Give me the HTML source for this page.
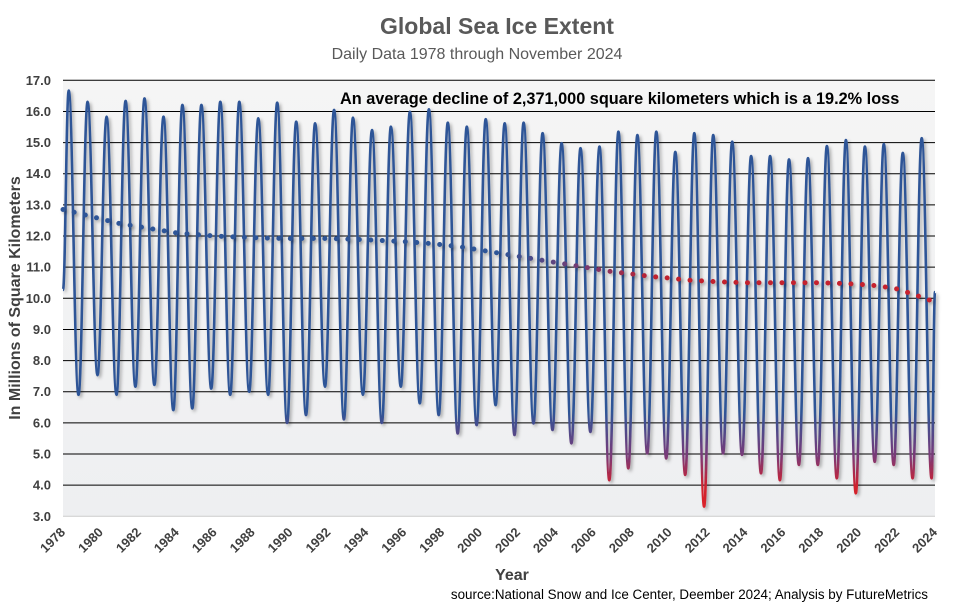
<!DOCTYPE html>
<html><head><meta charset="utf-8"><style>
html,body{margin:0;padding:0;background:#fff;}
svg{display:block;font-family:"Liberation Sans",Arial,sans-serif;}
</style></head><body>
<svg id="chart" width="955" height="610" viewBox="0 0 955 610">
<defs>
<linearGradient id="bg" x1="0" y1="0" x2="0" y2="1"><stop offset="0" stop-color="#f5f5f5"/><stop offset="1" stop-color="#eeeff1"/></linearGradient>
<linearGradient id="lineGrad" gradientUnits="userSpaceOnUse" x1="0" y1="80" x2="0" y2="517">
<stop offset="0" stop-color="#2f5597"/><stop offset="0.76" stop-color="#2f5597"/><stop offset="0.86" stop-color="#7a3a78"/><stop offset="0.93" stop-color="#d0202d"/><stop offset="1" stop-color="#e0202a"/>
</linearGradient>
<linearGradient id="trendGrad" gradientUnits="userSpaceOnUse" x1="63" y1="0" x2="935" y2="0">
<stop offset="0" stop-color="#2f5597"/><stop offset="0.5" stop-color="#2f5597"/><stop offset="0.6" stop-color="#7a3a70"/><stop offset="0.68" stop-color="#c0202d"/><stop offset="1" stop-color="#c8202d"/>
</linearGradient>
<filter id="sh" x="-5%" y="-5%" width="110%" height="110%"><feDropShadow dx="2" dy="2" stdDeviation="1.5" flood-color="#000" flood-opacity="0.3"/></filter>
</defs>
<text x="497" y="34" text-anchor="middle" font-size="23" font-weight="bold" fill="#595959">Global Sea Ice Extent</text>
<text x="477" y="59" text-anchor="middle" font-size="16" fill="#595959">Daily Data 1978 through November 2024</text>
<rect x="63" y="80" width="872" height="437" fill="url(#bg)"/>
<g id="grid"></g>
<g id="yticks"></g>
<g id="xticks"></g>
<g id="series"></g>
<text x="340" y="104" font-size="16.3" font-weight="bold" fill="#000">An average decline of 2,371,000 square kilometers which is a 19.2% loss</text>
<text x="512" y="580" text-anchor="middle" font-size="16" font-weight="bold" fill="#404040">Year</text>
<text transform="translate(20,298) rotate(-90)" text-anchor="middle" font-size="16" font-weight="bold" fill="#404040">In Millions of Square Kilometers</text>
<text x="928" y="599" text-anchor="end" font-size="13.4" fill="#000">source:National Snow and Ice Center, Deember 2024; Analysis by FutureMetrics</text>
</svg>
<script>
const yTicks=[3,4,5,6,7,8,9,10,11,12,13,14,15,16,17];
const xTickYears=[1978,1980,1982,1984,1986,1988,1990,1992,1994,1996,1998,2000,2002,2004,2006,2008,2010,2012,2014,2016,2018,2020,2022,2024];
const peakValues=[16.67,16.31,15.83,16.34,16.42,15.83,16.21,16.21,16.31,16.31,15.78,16.28,15.67,15.62,16.05,15.8,15.4,15.51,15.99,16.07,15.64,15.51,15.75,
15.62,15.64,15.3,14.98,14.82,14.87,15.35,15.24,15.35,14.7,15.3,15.24,15.03,14.57,14.57,14.46,14.5,14.89,15.08,14.87,14.95,14.67,15.14];
const troughValues=[6.9,7.53,6.9,7.16,7.22,6.41,6.46,7.1,6.9,7.0,6.9,6.0,6.25,7.16,6.11,6.9,6.0,7.16,6.63,6.25,5.66,5.93,6.57,
5.61,5.98,5.77,5.34,5.71,4.16,4.54,5.02,4.86,4.33,3.31,5.02,4.97,4.38,4.16,4.65,4.65,4.22,3.74,4.75,4.65,4.22,4.22];
const startValue=10.27, endValue=10.2;
const trendValues=[12.85,12.7,12.55,12.4,12.3,12.2,12.1,12.05,12.0,11.97,11.95,11.93,11.92,11.92,11.92,11.9,11.88,11.85,11.82,11.78,11.72,11.65,11.55,11.45,11.35,11.25,11.15,11.05,10.95,10.85,10.78,10.7,10.65,10.58,10.55,10.52,10.5,10.5,10.5,10.5,10.5,10.48,10.45,10.4,10.3,10.1,9.88];

const NS='http://www.w3.org/2000/svg';
const X0=63,X1=935,Y0=80.3,Y1=516.3;
function xs(t){return X0+(t-1978)/46*(X1-X0);}
function ys(v){return Y0+(17-v)/14*(Y1-Y0);}
function mk(tag,attrs,parent){const e=document.createElementNS(NS,tag);for(const k in attrs)e.setAttribute(k,attrs[k]);parent.appendChild(e);return e;}
const grid=document.getElementById('grid'),yt=document.getElementById('yticks'),xt=document.getElementById('xticks'),ser=document.getElementById('series');
yTicks.forEach(v=>{
  const l=mk('line',{x1:X0,x2:X1,y1:ys(v),y2:ys(v),stroke:v===3?'#d0d0d0':'#000','stroke-width':1},grid);
  
  
  const t=mk('text',{x:51,y:ys(v)+4.5,'text-anchor':'end','font-size':13,'font-weight':'bold',fill:'#404040'},yt);
  t.textContent=v.toFixed(1);
  
  
});
xTickYears.forEach(y=>{
  const x=xs(y)+3,yy=533;
  const t=mk('text',{x:x,y:yy,'text-anchor':'end','font-size':13,'font-weight':'bold',fill:'#404040',transform:`rotate(-45 ${x} ${yy})`},xt);
  t.textContent=y;
  
  
});
const pts=[[xs(1978),ys(startValue)]];
for(let k=0;k<peakValues.length;k++){
  pts.push([xs(1978.3+k),ys(peakValues[k])]);
  if(k<troughValues.length) pts.push([xs(1978.82+k),ys(troughValues[k])]);
}
pts.push([xs(2024),ys(endValue)]);
let d='M'+pts[0][0].toFixed(1)+','+pts[0][1].toFixed(1);
for(let i=1;i<pts.length;i++){
  const [xa,ya]=pts[i-1],[xb,yb]=pts[i];const dx=(xb-xa)*0.4;
  d+=` C${(xa+dx).toFixed(1)},${ya.toFixed(1)} ${(xb-dx).toFixed(1)},${yb.toFixed(1)} ${xb.toFixed(1)},${yb.toFixed(1)}`;
}
const line=mk('path',{d:d,fill:'none',stroke:'url(#lineGrad)','stroke-width':2.6,'stroke-linejoin':'round',filter:'url(#sh)'},ser);


let td='';
trendValues.forEach((v,i)=>{td+=(i?' L':'M')+xs(1978+i).toFixed(1)+','+ys(v).toFixed(1);});
const tr=mk('path',{d:td,fill:'none',stroke:'url(#trendGrad)','stroke-width':5,'stroke-linecap':'round','stroke-dasharray':'0 11.5',filter:'url(#sh)'},ser);


</script>
</body></html>
